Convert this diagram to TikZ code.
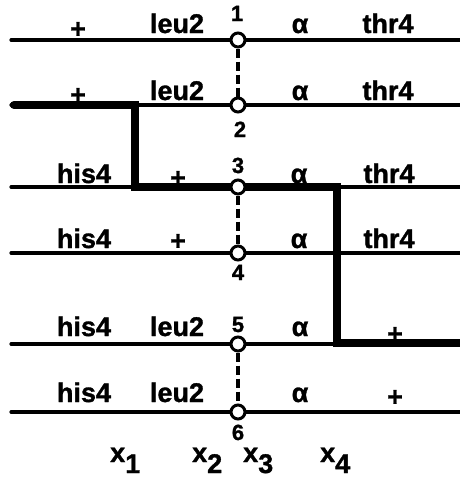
\documentclass[tikz,border=0pt]{standalone}
\usepackage{fontspec}
\setmainfont{Liberation Sans}[BoldFeatures={FakeBold=1.2}]
\begin{document}
\begin{tikzpicture}[x=1pt,y=-1pt,
  lab/.style={font=\fontsize{27}{27}\selectfont\bfseries, inner sep=0pt, anchor=base},
  num/.style={font=\fontsize{22}{22}\selectfont\bfseries, inner sep=0pt, anchor=base},
  plus/.style={font=\fontsize{27}{27}\selectfont\bfseries, inner sep=0pt, anchor=center},
  xlab/.style={font=\fontsize{27}{27}\selectfont\bfseries, inner sep=0pt, anchor=base west},
  chrom/.style={line width=3.2pt, line cap=round},
  xover/.style={line width=8pt, line join=miter, line cap=round},
  cen/.style={circle, draw, fill=white, line width=3pt, minimum size=14pt, inner sep=0pt},
  link/.style={line width=3.4pt, dash pattern=on 9pt off 4pt}]
\useasboundingbox (0,0) rectangle (460,479);

% chromosome end points
\foreach \i/\y in {1/40,2/105,3/187,4/253,5/344,6/412}{
  \coordinate (L\i) at (11,\y);
  \coordinate (R\i) at (470,\y);
  \coordinate (C\i) at (238,\y);
}
\foreach \i in {1,...,6}{ \draw[chrom] (L\i) -- (R\i); }

% crossover path (thick)
\coordinate (T0) at (14,105);
\coordinate (T1) at (135,105);
\coordinate (T2) at (135,187);
\coordinate (T3) at (337,187);
\coordinate (T4) at (337,343);
\coordinate (T5) at (470,343);
\draw[xover] (T0) -- (T1) -- (T2) -- (T3) -- (T4) -- (T5);

% centromeres
\foreach \i in {1,...,6}{ \node[cen] (c\i) at (C\i) {}; }
\draw[link] (c1) -- (c2);
\draw[link] (c3) -- (c4);
\draw[link] (c5) -- (c6);

% numbers
\node[num] (n1) at (237,21) {1};
\node[num] (n2) at (240,137) {2};
\node[num] (n3) at (238,173) {3};
\node[num] (n4) at (238,280) {4};
\node[num] (n5) at (238,332) {5};
\node[num] (n6) at (238,440) {6};

% row 1
\node[plus] (p1) at (78,30) {+};
\node[lab] (a1) at (177,33) {leu2};
\node[lab] (m1) at (300,33) {α};
\node[lab] (b1) at (388,33) {thr4};
% row 2
\node[plus] (p2) at (78,96) {+};
\node[lab] (a2) at (177,100) {leu2};
\node[lab] (m2) at (300,100) {α};
\node[lab] (b2) at (388,100) {thr4};
% row 3
\node[lab] (h3) at (84,183) {his4};
\node[plus] (p3) at (178,179) {+};
\node[lab] (m3) at (299,183) {α};
\node[lab] (b3) at (389,183) {thr4};
% row 4
\node[lab] (h4) at (84,248) {his4};
\node[plus] (p4) at (178,242) {+};
\node[lab] (m4) at (299,248) {α};
\node[lab] (b4) at (389,248) {thr4};
% row 5
\node[lab] (h5) at (84,336) {his4};
\node[lab] (a5) at (177,336) {leu2};
\node[lab] (m5) at (300,336) {α};
\node[plus] (p5) at (395,335) {+};
% row 6
\node[lab] (h6) at (84,402) {his4};
\node[lab] (a6) at (177,402) {leu2};
\node[lab] (m6) at (300,402) {α};
\node[plus] (p6) at (395,398) {+};

% intervals
\node[xlab] (x1) at (110,462) {x\raisebox{-11pt}{1}};
\node[xlab] (x2) at (192,462) {x\raisebox{-11pt}{2}};
\node[xlab] (x3) at (243,462) {x\raisebox{-11pt}{3}};
\node[xlab] (x4) at (320,462) {x\raisebox{-11pt}{4}};
\end{tikzpicture}
\end{document}
